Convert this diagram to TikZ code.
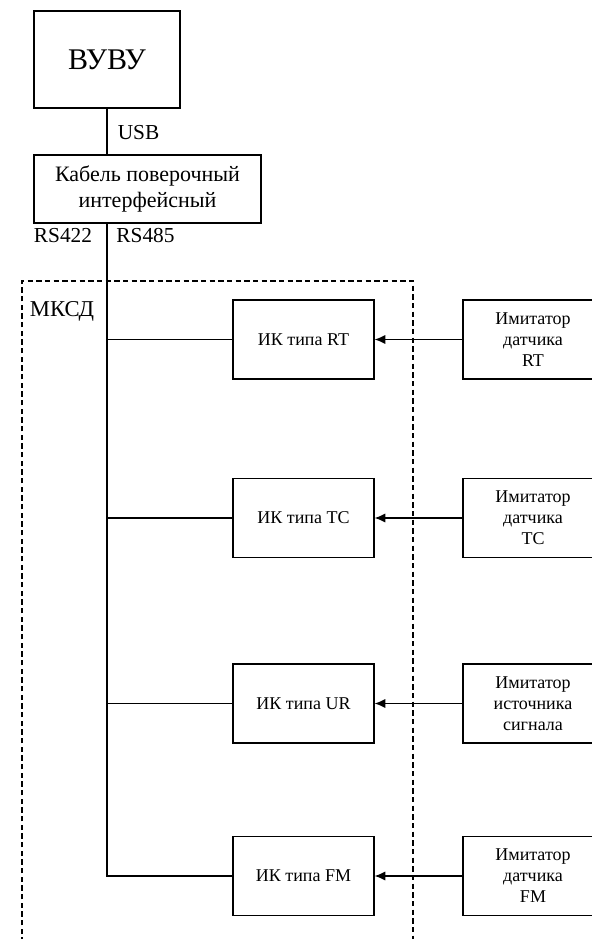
\documentclass[tikz,border=0pt]{standalone}
\usepackage{fontspec}
\setmainfont{Liberation Serif}
\usetikzlibrary{arrows.meta}
\begin{document}
\begin{tikzpicture}[x=0.75pt,y=-0.75pt,
  box/.style={draw,line width=1pt,inner sep=0pt,align=center,font=\fontsize{13.5}{15.75}\selectfont},
  ikbox/.style={box,minimum width=105.75pt,minimum height=59.25pt},
  imbox/.style={box,minimum width=105pt,minimum height=59.25pt},
  lbl/.style={inner sep=0pt,font=\fontsize{16}{18}\selectfont},
  wire/.style={line width=1pt},
  sig/.style={line width=1pt,-{Latex[length=8pt,width=7pt]}},
  frame/.style={line width=1pt,dash pattern=on 4pt off 2.5pt}]
\useasboundingbox (0,0) rectangle (592,939);
\clip (0,0) rectangle (592,939);
% top blocks
\node[box,minimum width=109.5pt,minimum height=72.75pt,font=\fontsize{22.5}{26}\selectfont] (vuvu) at (107,59.5) {ВУВУ};
\node[box,minimum width=170.25pt,minimum height=51pt,font=\fontsize{16.5}{19}\selectfont] (cable) at (147.5,189) {Кабель поверочный\\интерфейсный};
% dashed frame
\draw[frame] (22,960) -- (22,281) -- (413,281) -- (413,960);
\node[lbl,font=\fontsize{17}{19}\selectfont] (mksd) at (62,311) {МКСД};
% IK blocks
\node[ikbox] (ikrt) at (303.5,339.5) {ИК типа RT};
\node[ikbox] (iktc) at (303.5,518) {ИК типа TC};
\node[ikbox] (ikur) at (303.5,703.5) {ИК типа UR};
\node[ikbox] (ikfm) at (303.5,876) {ИК типа FM};
% imitators
\node[imbox] (imrt) at (533,339.5) {Имитатор\\датчика\\RT};
\node[imbox] (imtc) at (533,518) {Имитатор\\датчика\\TC};
\node[imbox] (imur) at (533,703.5) {Имитатор\\источника\\сигнала};
\node[imbox] (imfm) at (533,876) {Имитатор\\датчика\\FM};
% labels
\node[lbl] (usb) at (138.5,133) {USB};
\node[lbl] (rs422) at (63,236) {RS422};
\node[lbl] (rs485) at (145.5,236) {RS485};
% trunk
\coordinate (tr) at (vuvu.south |- cable.south);
\draw[wire] (vuvu.south) -- (vuvu.south |- cable.north);
\draw[wire] (tr) -- (tr |- ikfm.west) -- (ikfm.west);
\draw[wire] (tr |- ikrt.west) -- (ikrt.west);
\draw[wire] (tr |- iktc.west) -- (iktc.west);
\draw[wire] (tr |- ikur.west) -- (ikur.west);
% signals
\draw[sig] (imrt.west) -- (ikrt.east);
\draw[sig] (imtc.west) -- (iktc.east);
\draw[sig] (imur.west) -- (ikur.east);
\draw[sig] (imfm.west) -- (ikfm.east);
\end{tikzpicture}
\end{document}
